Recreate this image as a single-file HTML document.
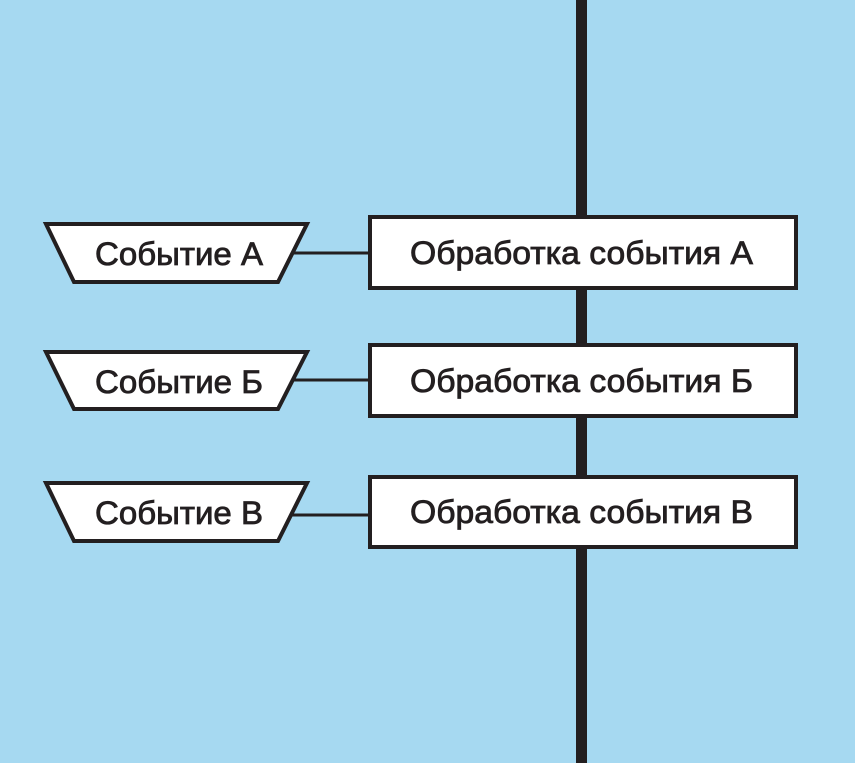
<!DOCTYPE html>
<html><head><meta charset="utf-8"><style>
html,body{margin:0;padding:0;background:#a6d9f1;}
svg{display:block}
text{font-family:"Liberation Sans",sans-serif;font-size:32px;fill:#231f20;stroke:#231f20;stroke-width:0.8;}
</style></head><body>
<svg width="855" height="763" viewBox="0 0 855 763">
<rect width="855" height="763" fill="#a6d9f1"/>
<rect x="576" y="0" width="11" height="763" fill="#231f20"/>
<g stroke="#231f20" fill="#fff">
<line x1="290" y1="253" x2="370" y2="253" stroke-width="3"/>
<line x1="290" y1="380" x2="370" y2="380" stroke-width="3"/>
<line x1="290" y1="515" x2="370" y2="515" stroke-width="3"/>
<polygon points="46,224 307,224 278,282 74,282" stroke-width="4"/>
<polygon points="46,352 307,352 278,409 74,409" stroke-width="4"/>
<polygon points="46,483 307,483 278,541 74,541" stroke-width="4"/>
<rect x="370" y="217" width="426" height="71" stroke-width="4"/>
<rect x="370" y="345" width="426" height="71" stroke-width="4"/>
<rect x="370" y="477" width="426" height="70" stroke-width="4"/>
</g>
<text x="95" y="265" textLength="168" lengthAdjust="spacingAndGlyphs">Событие А</text>
<text x="95" y="393" textLength="168" lengthAdjust="spacingAndGlyphs">Событие Б</text>
<text x="95" y="524" textLength="168" lengthAdjust="spacingAndGlyphs">Событие В</text>
<text x="410" y="264" textLength="343" lengthAdjust="spacingAndGlyphs">Обработка события А</text>
<text x="410" y="392" textLength="343" lengthAdjust="spacingAndGlyphs">Обработка события Б</text>
<text x="410" y="523" textLength="343" lengthAdjust="spacingAndGlyphs">Обработка события В</text>
</svg>
</body></html>
